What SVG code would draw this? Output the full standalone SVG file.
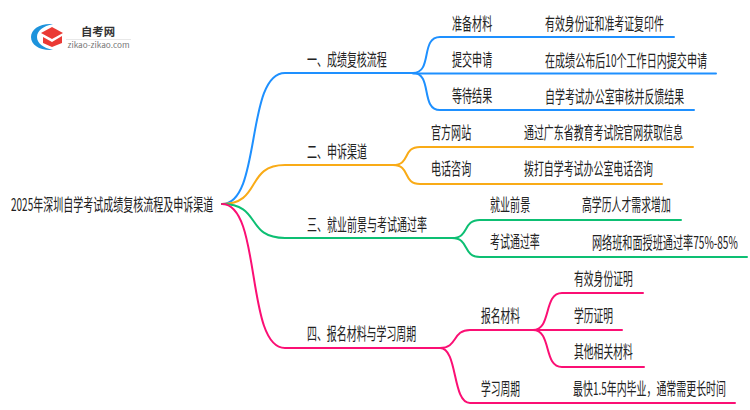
<svg xmlns="http://www.w3.org/2000/svg" width="750" height="410" viewBox="0 0 750 410">
<style>
text{font-family:"Noto Sans CJK SC","Liberation Sans",sans-serif;fill:#222}
.t{font-size:17px}
.c{fill:none;stroke-width:2;stroke-linecap:round}
.b{stroke:#1e90ff}.o{stroke:#f9ab17}.g{stroke:#0dbf73}.p{stroke:#fb0f74}
</style>
<rect width="750" height="410" fill="#fff"/>
<g id="logo">
<path d="M53 24C40 23 31 29 31 37C31 45 40 51 53 50C43 48 37 43 37 37C37 31 43 26 53 24Z" fill="#1d93dc"/>
<path d="M41 33L52 27L63 33L52 39Z" fill="#ea3a35"/>
<path d="M43 37L52 42L62 36V43L52 47L43 43Z" fill="#ea3a35"/>
<text x="81" y="36" textLength="34" lengthAdjust="spacingAndGlyphs" style="font-size:11.500px;font-weight:700;fill:#333">自考网</text>
<rect x="66" y="39" width="65" height="1" fill="#e8e8e8"/>
<text x="67.500" y="48" textLength="62" lengthAdjust="spacingAndGlyphs" style="font-size:7.500px;fill:#777">zikao-zikao.com</text>
</g>
<g id="connectors">
<path class="c b" d="M222 204C262 204 245 73 285 73H413"/>
<path class="c o" d="M222 204C262 204 245 165 285 165H393"/>
<path class="c g" d="M222 204C262 204 245 238 285 238H452"/>
<path class="c p" d="M222 204C262 204 245 348 285 348H440"/>
<path class="c b" d="M413 73C433 73 420 37 440 37H674"/>
<path class="c b" d="M413 73.500H716"/>
<path class="c b" d="M413 73C433 73 420 110 440 110H694"/>
<path class="c o" d="M393 165C411 165 402 147 420 147H693"/>
<path class="c o" d="M393 165C411 165 402 184 420 184H662"/>
<path class="c g" d="M452 238C470 238 462 220 480 220H681"/>
<path class="c g" d="M452 238C470 238 462 257 480 257H747"/>
<path class="c p" d="M440 348C458 348 452 330 470 330H533"/>
<path class="c p" d="M440 348C458 348 452 403 470 403H735"/>
<path class="c p" d="M533 330C552 330 543 293 562 293H643"/>
<path class="c p" d="M533 330H622"/>
<path class="c p" d="M533 330C552 330 543 367 562 367H644"/>
</g>
<g id="root"><text class="t" transform="matrix(.6 0 0 1 11 211)" textLength="337" lengthAdjust="spacingAndGlyphs">2025年深圳自学考试成绩复核流程及申诉渠道</text></g>
<g id="n1"><text class="t" transform="matrix(.6 0 0 1 307 66)" textLength="133" lengthAdjust="spacingAndGlyphs">一、成绩复核流程</text></g>
<g id="n1a"><text class="t" transform="matrix(.6 0 0 1 452 30)" textLength="67" lengthAdjust="spacingAndGlyphs">准备材料</text></g>
<g id="n1a1"><text class="t" transform="matrix(.6 0 0 1 545 30)" textLength="198" lengthAdjust="spacingAndGlyphs">有效身份证和准考证复印件</text></g>
<g id="n1b"><text class="t" transform="matrix(.6 0 0 1 452 66)" textLength="67" lengthAdjust="spacingAndGlyphs">提交申请</text></g>
<g id="n1b1"><text class="t" transform="matrix(.6 0 0 1 545 67)" textLength="270" lengthAdjust="spacingAndGlyphs">在成绩公布后10个工作日内提交申请</text></g>
<g id="n1c"><text class="t" transform="matrix(.6 0 0 1 452 102)" textLength="67" lengthAdjust="spacingAndGlyphs">等待结果</text></g>
<g id="n1c1"><text class="t" transform="matrix(.6 0 0 1 545 103)" textLength="232" lengthAdjust="spacingAndGlyphs">自学考试办公室审核并反馈结果</text></g>
<g id="n2"><text class="t" transform="matrix(.6 0 0 1 307 158)" textLength="100" lengthAdjust="spacingAndGlyphs">二、申诉渠道</text></g>
<g id="n2a"><text class="t" transform="matrix(.6 0 0 1 431 139)" textLength="67" lengthAdjust="spacingAndGlyphs">官方网站</text></g>
<g id="n2a1"><text class="t" transform="matrix(.6 0 0 1 524 139)" textLength="265" lengthAdjust="spacingAndGlyphs">通过广东省教育考试院官网获取信息</text></g>
<g id="n2b"><text class="t" transform="matrix(.6 0 0 1 431 175)" textLength="67" lengthAdjust="spacingAndGlyphs">电话咨询</text></g>
<g id="n2b1"><text class="t" transform="matrix(.6 0 0 1 524 175)" textLength="215" lengthAdjust="spacingAndGlyphs">拨打自学考试办公室电话咨询</text></g>
<g id="n3"><text class="t" transform="matrix(.6 0 0 1 307 231)" textLength="200" lengthAdjust="spacingAndGlyphs">三、就业前景与考试通过率</text></g>
<g id="n3a"><text class="t" transform="matrix(.6 0 0 1 490 211)" textLength="67" lengthAdjust="spacingAndGlyphs">就业前景</text></g>
<g id="n3a1"><text class="t" transform="matrix(.6 0 0 1 582 211)" textLength="148" lengthAdjust="spacingAndGlyphs">高学历人才需求增加</text></g>
<g id="n3b"><text class="t" transform="matrix(.6 0 0 1 490 248)" textLength="83" lengthAdjust="spacingAndGlyphs">考试通过率</text></g>
<g id="n3b1"><text class="t" transform="matrix(.6 0 0 1 592 249)" textLength="243" lengthAdjust="spacingAndGlyphs">网络班和面授班通过率75%-85%</text></g>
<g id="n4"><text class="t" transform="matrix(.6 0 0 1 307 340)" textLength="182" lengthAdjust="spacingAndGlyphs">四、报名材料与学习周期</text></g>
<g id="n4a"><text class="t" transform="matrix(.6 0 0 1 481 322)" textLength="65" lengthAdjust="spacingAndGlyphs">报名材料</text></g>
<g id="n4a1"><text class="t" transform="matrix(.6 0 0 1 574 285)" textLength="98" lengthAdjust="spacingAndGlyphs">有效身份证明</text></g>
<g id="n4a2"><text class="t" transform="matrix(.6 0 0 1 574 322)" textLength="65" lengthAdjust="spacingAndGlyphs">学历证明</text></g>
<g id="n4a3"><text class="t" transform="matrix(.6 0 0 1 574 358)" textLength="98" lengthAdjust="spacingAndGlyphs">其他相关材料</text></g>
<g id="n4b"><text class="t" transform="matrix(.6 0 0 1 481 395)" textLength="65" lengthAdjust="spacingAndGlyphs">学习周期</text></g>
<g id="n4b1"><text class="t" transform="matrix(.6 0 0 1 573 395)" textLength="255" lengthAdjust="spacingAndGlyphs">最快1.5年内毕业，通常需更长时间</text></g>
</svg>
